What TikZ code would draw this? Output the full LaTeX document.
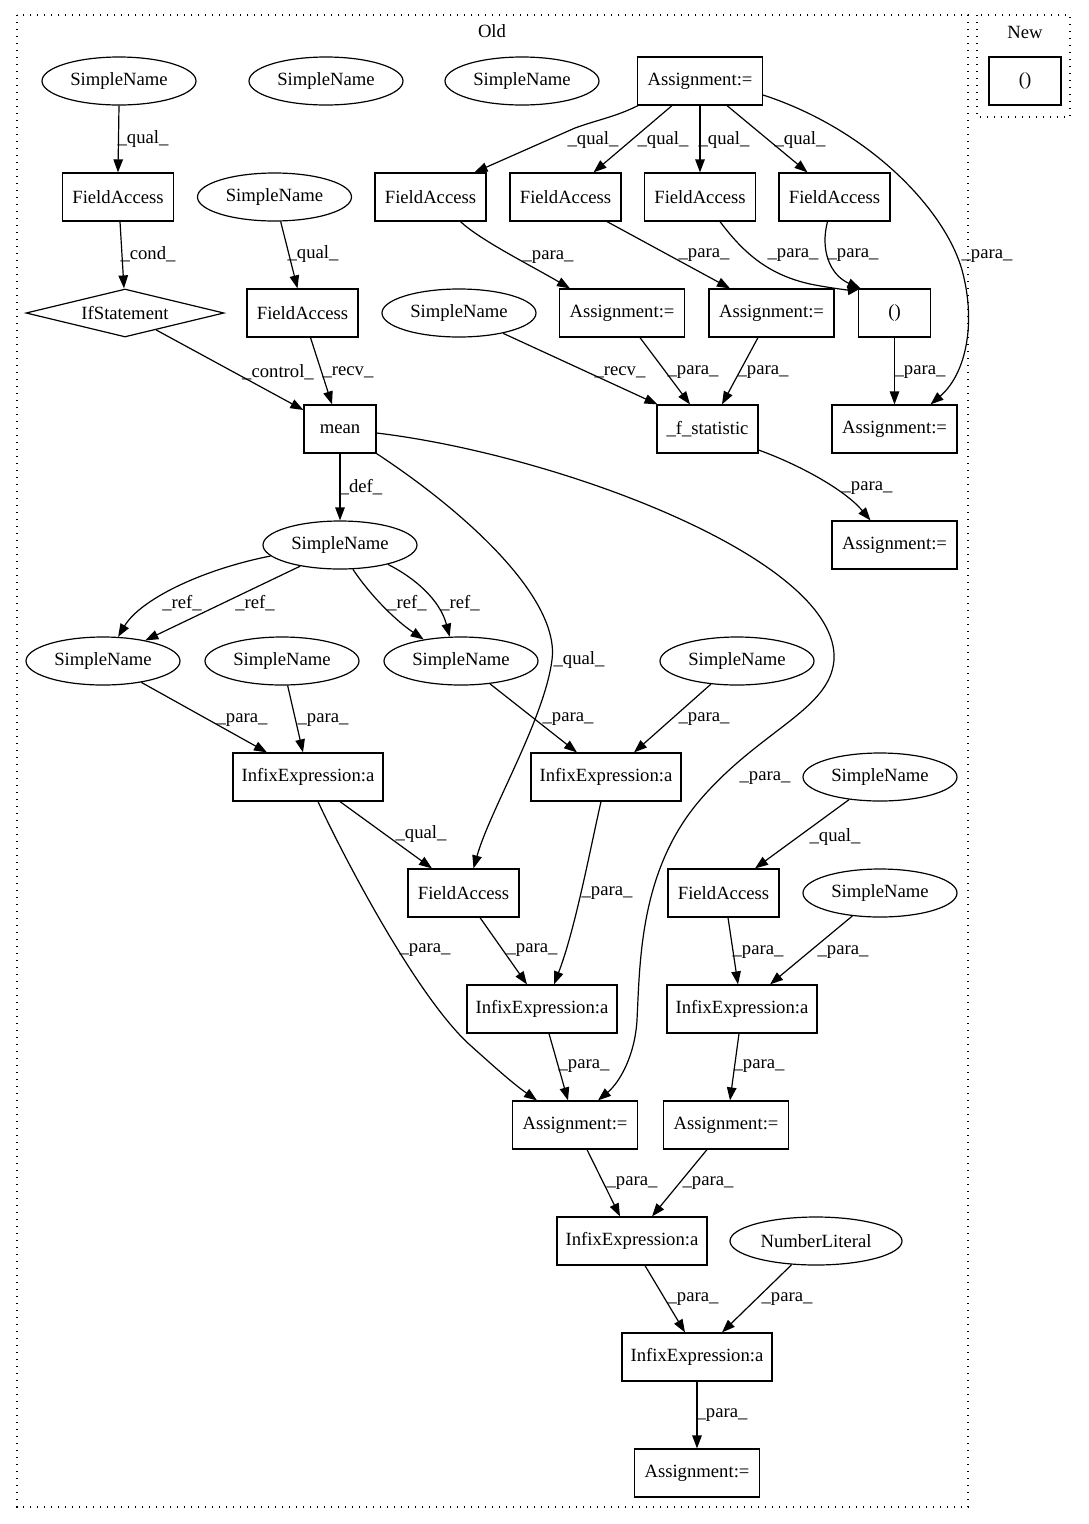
\documentclass[tikz,border=0pt]{standalone}
\usepackage{fontspec}
\setmainfont{Liberation Serif}
\usetikzlibrary{arrows.meta,shapes.geometric}
\newcommand\gvfont{\fontsize{18.67pt}{22pt}\selectfont}
\begin{document}
\begin{tikzpicture}[x=1pt,y=-1pt,
  every node/.style={font=\gvfont},
  box/.style={draw,rectangle,line width=1.2pt,minimum height=48pt,inner sep=0pt},
  ell/.style={draw,ellipse,line width=1.2pt,minimum width=154pt,minimum height=48pt,inner sep=0pt},
  dia/.style={draw,diamond,aspect=4.125,line width=1.2pt,minimum width=198pt,minimum height=48pt,inner sep=0pt},
  edge/.style={line width=1.2pt,-{Triangle[length=13pt,width=9.5pt]}},
  lab/.style={inner sep=0pt},
  cluster/.style={line width=1.2pt,dash pattern=on 1.3pt off 5.7pt}
]
\useasboundingbox (0,0) rectangle (1088,1524);
% clusters
\draw[cluster] (17,15) rectangle (968,1507);
\node (oldlab) at (492,31) {Old};
\draw[cluster] (977,15) rectangle (1070,117);
\node (newlab) at (1025,32) {New};

% nodes
\node[box,minimum width=72pt] (newp) at (1025,81) {()};

\node[ell] (sn1) at (119,81) {SimpleName};
\node[ell] (sn2) at (326,81) {SimpleName};
\node[ell] (sn3) at (522,81) {SimpleName};
\node[box,minimum width=125pt] (asg1) at (700,81) {Assignment:=};

\node[box,minimum width=111pt] (fa1) at (118,197) {FieldAccess};
\node[ell] (sn4) at (274.5,197) {SimpleName};
\node[box,minimum width=111pt] (fa2) at (430.5,197) {FieldAccess};
\node[box,minimum width=111pt] (fa3) at (565.5,197) {FieldAccess};
\node[box,minimum width=111pt] (fa4) at (700,197) {FieldAccess};
\node[box,minimum width=111pt] (fa5) at (834.5,197) {FieldAccess};

\node[dia] (ifs) at (125,313) {IfStatement};
\node[box,minimum width=111pt] (fa6) at (302.5,313) {FieldAccess};
\node[ell] (sn5) at (459,313) {SimpleName};
\node[box,minimum width=125pt] (asg2) at (622,313) {Assignment:=};
\node[box,minimum width=125pt] (asg3) at (771.5,313) {Assignment:=};
\node[box,minimum width=72pt] (paren) at (894.5,313) {()};

\node[box,minimum width=72pt] (mean) at (340,429) {mean};
\node[box,minimum width=101pt] (fstat) at (707.5,429) {\_f\_statistic};
\node[box,minimum width=125pt] (asg4) at (894.5,429) {Assignment:=};

\node[ell] (sn6) at (340,545) {SimpleName};
\node[box,minimum width=125pt] (asg5) at (894.5,545) {Assignment:=};

\node[ell] (sn7) at (103,661) {SimpleName};
\node[ell] (sn8) at (282,661) {SimpleName};
\node[ell] (sn9) at (461,661) {SimpleName};
\node[ell] (sn10) at (737,661) {SimpleName};

\node[box,minimum width=150pt] (inf1) at (308,777) {InfixExpression:a};
\node[box,minimum width=150pt] (inf2) at (606,777) {InfixExpression:a};
\node[ell] (sn11) at (880,777) {SimpleName};

\node[box,minimum width=111pt] (fa7) at (463.5,893) {FieldAccess};
\node[box,minimum width=111pt] (fa8) at (723.5,893) {FieldAccess};
\node[ell] (sn12) at (880,893) {SimpleName};

\node[box,minimum width=150pt] (inf3) at (542,1009) {InfixExpression:a};
\node[box,minimum width=150pt] (inf4) at (742,1009) {InfixExpression:a};

\node[box,minimum width=125pt] (asg6) at (575,1125) {Assignment:=};
\node[box,minimum width=125pt] (asg7) at (726,1125) {Assignment:=};

\node[box,minimum width=150pt] (inf5) at (632,1241) {InfixExpression:a};
\node[ell,minimum width=172pt] (nl) at (816,1241) {NumberLiteral};

\node[box,minimum width=150pt] (inf6) at (697,1357) {InfixExpression:a};
\node[box,minimum width=125pt] (asg8) at (697,1473) {Assignment:=};

% edges
\draw[edge] (sn1.south) -- (fa1.north) node[lab] (l1) at (143,139) {\_qual\_};
\draw[edge] ([xshift=-62pt]asg1.south) .. controls (615,117) and (600,119) .. (575,128) -- ([xshift=44pt]fa2.north) node[lab] (l2) at (593,140) {\_qual\_};
\draw[edge] ([xshift=-28pt]asg1.south) -- ([xshift=28pt]fa3.north) node[lab] (l3) at (663,140) {\_qual\_};
\draw[edge] (asg1.south) -- (fa4.north) node[lab] (l4) at (724,140) {\_qual\_};
\draw[edge] ([xshift=27pt]asg1.south) -- ([xshift=-27pt]fa5.north) node[lab] (l5) at (800,140) {\_qual\_};
\draw[edge] ([yshift=-14pt]asg1.east) .. controls (870,130) and (945,210) .. (962,270) .. controls (977,325) and (965,375) .. ([xshift=36pt]asg4.north) node[lab] (l6) at (987,256) {\_para\_};
\draw[edge] ([xshift=2pt]fa1.south) -- ([xshift=-1pt]ifs.north) node[lab] (l7) at (148,254) {\_cond\_};
\draw[edge] (sn4) -- ([xshift=-5pt]fa6.north) node[lab] (l8) at (313,254) {\_qual\_};
\draw[edge] ([xshift=30pt]fa2.south) .. controls (480,240) and (530,265) .. ([xshift=-52pt]asg2.north) node[lab] (l9) at (548,257) {\_para\_};
\draw[edge] ([xshift=41.5pt]fa3.south) -- ([xshift=-41.5pt]asg3.north) node[lab] (l10) at (704,255) {\_para\_};
\draw[edge] ([xshift=20pt]fa4.south) .. controls (745,255) and (770,275) .. (810,284) .. controls (835,289) and (850,290) .. ([xshift=-34pt]paren.north) node[lab] (l11) at (793,255) {\_para\_};
\draw[edge] ([xshift=-7pt]fa5.south) .. controls (820,250) and (830,275) .. ([xshift=-34pt]paren.north) node[lab] (l12) at (853,255) {\_para\_};
\draw[edge] (ifs) -- ([yshift=19pt]mean.west) node[lab] (l13) at (278,372) {\_control\_};
\draw[edge] ([xshift=8pt]fa6.south) -- ([xshift=-8pt]mean.north) node[lab] (l14) at (348,372) {\_recv\_};
\draw[edge] (sn5) -- ([xshift=-50pt]fstat.north) node[lab] (l15) at (620,372) {\_recv\_};
\draw[edge] ([xshift=18pt]asg2.south) -- ([xshift=-17.5pt]fstat.north) node[lab] (l16) at (693,372) {\_para\_};
\draw[edge] ([xshift=-13.5pt]asg3.south) -- ([xshift=14.5pt]fstat.north) node[lab] (l17) at (763,372) {\_para\_};
\draw[edge] (paren.south) -- (asg4.north) node[lab] (l18) at (920,372) {\_para\_};
\draw[edge] ([yshift=-21pt]fstat.east) .. controls (800,465) and (845,490) .. ([xshift=-24pt]asg5.north) node[lab] (l19) at (867,488) {\_para\_};
\draw[edge] (mean.south) -- (sn6.north) node[lab] (l20) at (361,487) {\_def\_};
\draw[edge] (mean.south east) .. controls (470,515) and (560,600) .. (552,660) .. controls (544,720) and (490,810) .. ([xshift=10pt]fa7.north) node[lab] (l21) at (579,660) {\_qual\_};
\draw[edge] ([yshift=-4pt]mean.east) .. controls (560,455) and (840,560) .. (834,660) .. controls (830,710) and (760,730) .. (700,800) .. controls (640,870) and (640,960) .. (637,1020) .. controls (635,1055) and (620,1082) .. ([xshift=23pt]asg6.north) node[lab] (l22) at (765,778) {\_para\_};
\draw[edge] (sn6.189) .. controls (200,570) and (140,600) .. (sn7.58) node[lab] (l23) at (182,603) {\_ref\_};
\draw[edge] (sn6.208) -- (sn7.26) node[lab] (l24) at (255,603) {\_ref\_};
\draw[edge] (sn6.298) .. controls (370,595) and (395,620) .. (sn9.150) node[lab] (l25) at (407,603) {\_ref\_};
\draw[edge] (sn6.338) .. controls (415,578) and (440,600) .. (sn9.115) node[lab] (l26) at (460,603) {\_ref\_};
\draw[edge] (sn7) -- ([xshift=-41pt]inf1.north) node[lab] (l27) at (242,720) {\_para\_};
\draw[edge] (sn8) -- ([xshift=-5pt]inf1.north) node[lab] (l28) at (323,720) {\_para\_};
\draw[edge] (sn9) -- ([xshift=-29pt]inf2.north) node[lab] (l29) at (568,719) {\_para\_};
\draw[edge] (sn10) -- ([xshift=28pt]inf2.north) node[lab] (l30) at (704,719) {\_para\_};
\draw[edge] ([xshift=32pt]inf1.south) -- ([xshift=-31.5pt]fa7.north) node[lab] (l31) at (421,834) {\_qual\_};
\draw[edge] ([xshift=10pt]inf1.south) .. controls (350,870) and (420,1000) .. (470,1045) .. controls (500,1072) and (515,1085) .. ([xshift=-38pt]asg6.north) node[lab] (l32) at (425,950) {\_para\_};
\draw[edge] ([xshift=-5pt]inf2.south) .. controls (590,850) and (575,930) .. ([xshift=12pt]inf3.north) node[lab] (l33) at (607,893) {\_para\_};
\draw[edge] ([xshift=16.5pt]fa7.south) -- ([xshift=-15pt]inf3.north) node[lab] (l34) at (532,950) {\_para\_};
\draw[edge] (sn11) -- ([xshift=31.5pt]fa8.north) node[lab] (l35) at (835,837) {\_qual\_};
\draw[edge] ([xshift=4.5pt]fa8.south) -- ([xshift=-4pt]inf4.north) node[lab] (l36) at (758,952) {\_para\_};
\draw[edge] (sn12) -- ([xshift=28pt]inf4.north) node[lab] (l37) at (843,952) {\_para\_};
\draw[edge] ([xshift=7pt]inf3.south) -- ([xshift=-7pt]asg6.north) node[lab] (l38) at (584,1066) {\_para\_};
\draw[edge] ([xshift=-3pt]inf4.south) -- ([xshift=4pt]asg7.north) node[lab] (l39) at (759,1066) {\_para\_};
\draw[edge] ([xshift=12pt]asg6.south) -- ([xshift=-12pt]inf5.north) node[lab] (l40) at (632,1183) {\_para\_};
\draw[edge] ([xshift=-19pt]asg7.south) -- ([xshift=20pt]inf5.north) node[lab] (l41) at (708,1183) {\_para\_};
\draw[edge] ([xshift=13pt]inf5.south) -- ([xshift=-12pt]inf6.north) node[lab] (l42) at (693,1299) {\_para\_};
\draw[edge] (nl) -- ([xshift=25pt]inf6.north) node[lab] (l43) at (787,1299) {\_para\_};
\draw[edge] (inf6.south) -- (asg8.north) node[lab] (l44) at (722,1415) {\_para\_};
\end{tikzpicture}
\end{document}
